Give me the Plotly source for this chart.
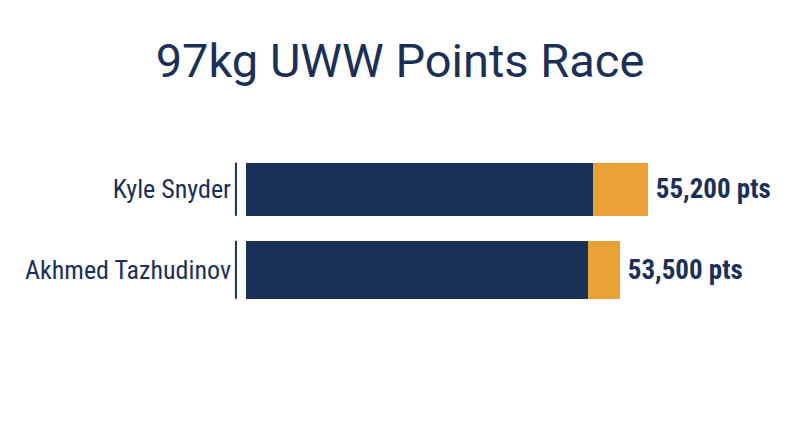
import plotly.graph_objects as go

# data
wrestlers = ["Kyle Snyder", "Akhmed Tazhudinov"]
base_pts = [51900, 51550]
extra_pts = [3300, 1950]
total_labels = ["55,200 pts", "53,500 pts"]
bar_widths = [0.66, 0.72]

NAVY = "#1b3057"
GOLD = "#e8a135"
COND = "Roboto Condensed, Liberation Sans Narrow, Arial Narrow, Roboto, sans-serif"

fig = go.Figure()
fig.add_trace(go.Bar(y=wrestlers, x=base_pts, orientation="h", width=bar_widths,
                     marker=dict(color=NAVY, line_width=0), hoverinfo="skip"))
fig.add_trace(go.Bar(y=wrestlers, x=extra_pts, orientation="h", width=bar_widths,
                     marker=dict(color=GOLD, line_width=0),
                     text=["\u2009" + t for t in total_labels], textposition="outside",
                     constraintext="none", cliponaxis=False,
                     textfont=dict(family=COND, size=27, color=NAVY, weight="bold"),
                     hoverinfo="skip"))

# thin vertical marks left of each bar
for i, w in enumerate(bar_widths):
    fig.add_shape(type="line", xref="x domain", yref="y",
                  x0=-0.019, x1=-0.019, y0=i - w / 2, y1=i + w / 2,
                  line=dict(color=NAVY, width=2))

fig.update_layout(
    barmode="stack",
    width=800, height=447,
    margin=dict(l=246, r=24, t=149, b=137, autoexpand=False),
    plot_bgcolor="white", paper_bgcolor="white",
    showlegend=False,
    title=dict(text="97kg UWW Points Race", x=0.5, xanchor="center",
               y=0.865, yanchor="middle",
               font=dict(family="Roboto, sans-serif", size=47, color=NAVY)),
)
fig.update_xaxes(range=[30800, 63000], visible=False, automargin=False)
fig.update_yaxes(range=[1.5, -0.5], showgrid=False, showline=False, ticks="",
                 ticklabelstandoff=14, automargin=False,
                 tickfont=dict(family=COND, size=26, color=NAVY))

# drop the default page margin so the figure sits at the window corner
fig.write_html("out.html", config={"displayModeBar": False},
               post_script="document.body.style.margin='0';")
